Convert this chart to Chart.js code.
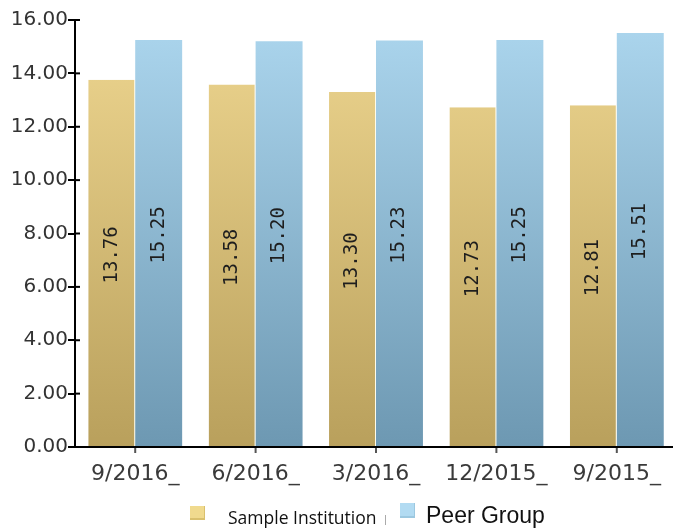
<!DOCTYPE html>
<html lang="en">
<head>
<meta charset="UTF-8">
<title>Sample Institution vs Peer Group</title>
<script src="https://cdn.jsdelivr.net/npm/chart.js@4.4.1/dist/chart.umd.min.js"></script>
<style>
    html, body { margin: 0; padding: 0; background: #fff; overflow: hidden; }
    #wrap { width: 677px; height: 531px; position: relative; }
</style>
</head>
<body>
<div id="wrap"><canvas id="chart"></canvas></div>
<script>
const categories = ['9/2016_', '6/2016_', '3/2016_', '12/2015_', '9/2015_'];
const sampleInstitution = [13.76, 13.58, 13.30, 12.73, 12.81];
const peerGroup = [15.25, 15.20, 15.23, 15.25, 15.51];
const yTicks = [0, 2, 4, 6, 8, 10, 12, 14, 16];

function vGrad(chart, top, bottom) {
    const area = chart.chartArea;
    if (!area) return top;
    const g = chart.ctx.createLinearGradient(0, area.top, 0, area.bottom);
    g.addColorStop(0, top);
    g.addColorStop(1, bottom);
    return g;
}

// value labels, rotated, roughly mid-bar
const barLabels = {
    id: 'barLabels',
    afterDatasetsDraw(chart) {
        const ctx = chart.ctx;
        ctx.save();
        ctx.font = '19px "DejaVu Sans Mono"';
        ctx.fillStyle = '#1e1e1e';
        ctx.textAlign = 'center';
        ctx.textBaseline = 'middle';
        chart.data.datasets.forEach((ds, di) => {
            chart.getDatasetMeta(di).data.forEach((bar, i) => {
                const y = (bar.y + bar.base) / 2 - 8;
                ctx.save();
                ctx.translate(bar.x, y);
                ctx.rotate(-Math.PI / 2);
                ctx.fillText(ds.data[i].toFixed(2), 0, 0);
                ctx.restore();
            });
        });
        ctx.restore();
    }
};

// y tick marks cross the axis line; x ticks sit under each category centre
const axisTicks = {
    id: 'axisTicks',
    afterDraw(chart) {
        const ctx = chart.ctx;
        const y = chart.scales.y;
        const x = chart.scales.x;
        ctx.save();
        ctx.strokeStyle = '#000';
        ctx.lineWidth = 2;
        yTicks.forEach(v => {
            const py = y.getPixelForValue(v);
            ctx.beginPath();
            ctx.moveTo(y.right, py);
            ctx.lineTo(y.right + 5, py);
            ctx.stroke();
        });
        ctx.strokeStyle = '#555';
        ctx.lineWidth = 2;
        categories.forEach((c, i) => {
            const px = x.getPixelForTick(i);
            ctx.beginPath();
            ctx.moveTo(px, x.top + 1);
            ctx.lineTo(px, x.top + 6);
            ctx.stroke();
        });
        ctx.restore();
    }
};

// legend drawn by hand, the two entries use different fonts in the original
const customLegend = {
    id: 'customLegend',
    afterDraw(chart) {
        const ctx = chart.ctx;
        const ds = chart.data.datasets;
        ctx.save();
        ctx.textBaseline = 'middle';
        ctx.textAlign = 'left';

        // first entry
        ctx.fillStyle = '#d9c06e';
        ctx.fillRect(190, 506, 15, 14);
        ctx.fillStyle = '#f0da8e';
        ctx.fillRect(190, 506, 14, 12);
        ctx.font = '17.5px "Open Sans"';
        ctx.fillStyle = '#111';
        ctx.fillText(ds[0].label, 228, 519);

        ctx.fillStyle = '#aaa';
        ctx.fillRect(385, 515, 1, 10);

        // second entry
        ctx.fillStyle = '#9cc8e0';
        ctx.fillRect(400, 503, 15, 15);
        ctx.fillStyle = '#b2dbf2';
        ctx.fillRect(400, 503, 14, 13);
        ctx.font = '23px "Liberation Sans"';
        ctx.fillStyle = '#111';
        ctx.fillText(ds[1].label, 426, 517);
        ctx.restore();
    }
};

new Chart(document.getElementById('chart'), {
    type: 'bar',
    data: {
        labels: categories,
        datasets: [
            {
                label: 'Sample Institution',
                data: sampleInstitution,
                backgroundColor: ctx => vGrad(ctx.chart, '#eed690', '#b9a05c'),
                borderColor: 'rgba(255,250,220,0.6)',
                borderWidth: { right: 1, left: 0, top: 0, bottom: 0 },
                barPercentage: 1,
                categoryPercentage: 0.78
            },
            {
                label: 'Peer Group',
                data: peerGroup,
                backgroundColor: ctx => vGrad(ctx.chart, '#acd6ee', '#6d98b2'),
                borderWidth: 0,
                barPercentage: 1,
                categoryPercentage: 0.78
            }
        ]
    },
    options: {
        responsive: true,
        maintainAspectRatio: false,
        animation: false,
        layout: { padding: { top: 20, right: 0, bottom: 34, left: 0 } },
        plugins: {
            legend: { display: false },
            tooltip: { enabled: false }
        },
        scales: {
            x: {
                grid: { display: false },
                border: { display: true, color: '#000', width: 2 },
                ticks: { color: '#3a3a3a', font: { family: 'DejaVu Sans', size: 22 }, padding: 6, maxRotation: 0, autoSkip: false },
                afterFit(scale) { scale.height = 50; }
            },
            y: {
                min: 0,
                max: 16,
                afterBuildTicks(scale) { scale.ticks = yTicks.map(v => ({ value: v })); },
                grid: { display: true, drawOnChartArea: false, drawTicks: true, tickLength: 7, color: '#000', lineWidth: 2 },
                border: { display: true, color: '#000', width: 2 },
                ticks: {
                    color: '#333',
                    font: { family: 'DejaVu Sans', size: 20 },
                    padding: 0,
                    callback: v => Number(v).toFixed(2)
                },
                afterFit(scale) { scale.width = 75; }
            }
        }
    },
    plugins: [barLabels, axisTicks, customLegend]
});
</script>
</body>
</html>
